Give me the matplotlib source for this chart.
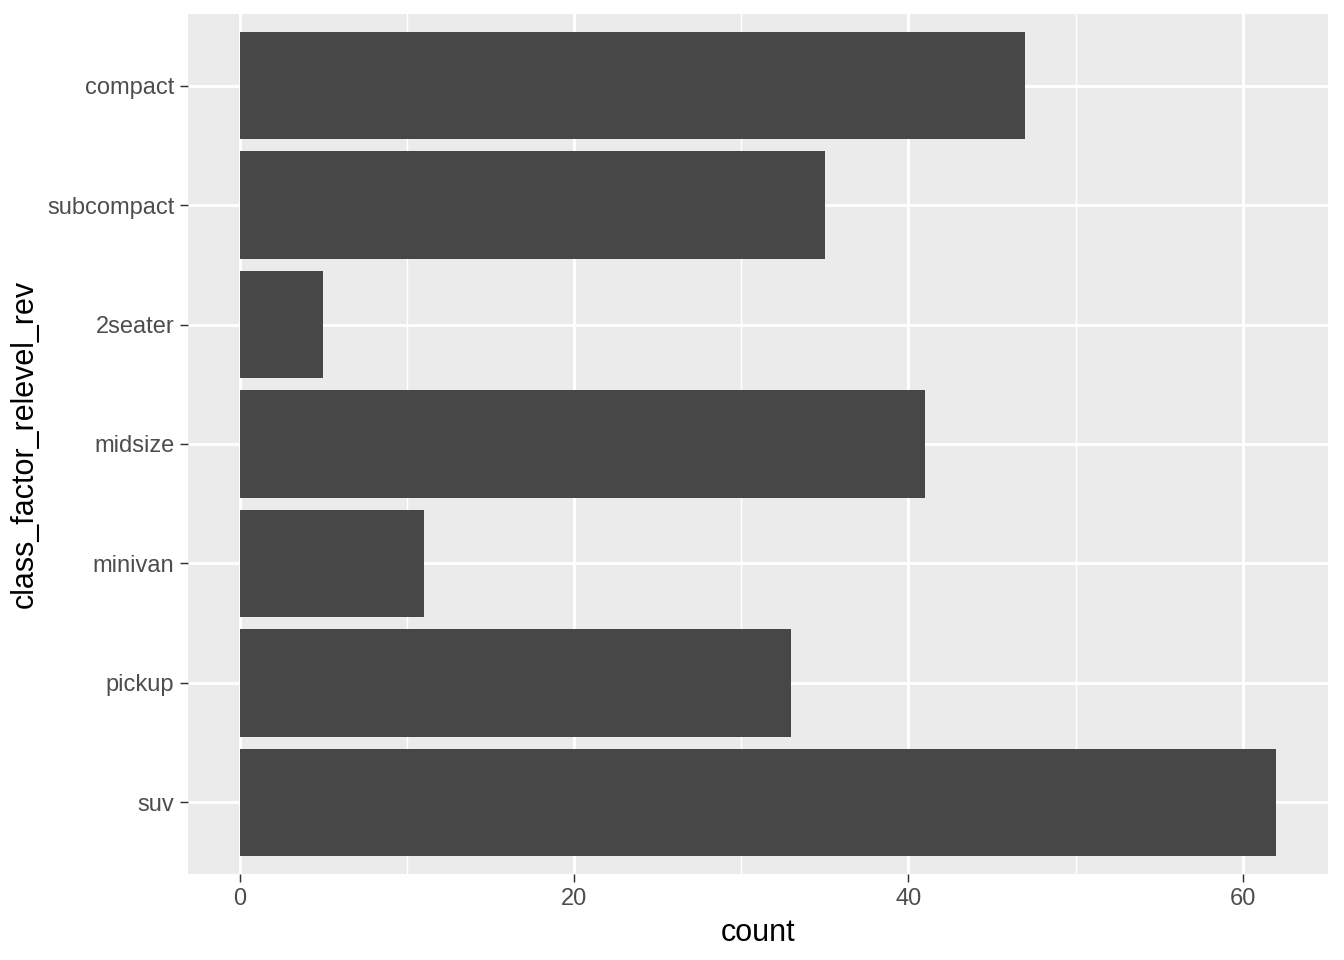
import matplotlib
matplotlib.use("Agg")
import matplotlib.pyplot as plt

categories = ["compact", "subcompact", "2seater", "midsize", "minivan", "pickup", "suv"]
counts = [47, 35, 5, 41, 11, 33, 62]
x_ticks = [0, 20, 40, 60]
x_minor = [10, 30, 50]

plt.rcParams['font.family'] = ['Liberation Sans', 'DejaVu Sans']

fig = plt.figure(figsize=(6.72, 4.8), dpi=200)
ax = fig.add_axes([188/1344, 1-874/960, (1328-188)/1344, (874-14)/960])
ax.set_facecolor("#EBEBEB")

n = len(categories)
ypos = [n - i for i in range(n)]
ax.barh(ypos, counts, height=0.9, color="#474747", zorder=3)

ax.set_xlim(-0.05*62, 62*1.05)
ax.set_ylim(0.4, n + 0.6)
ax.set_xticks(x_ticks)
ax.set_xticklabels([str(t) for t in x_ticks])
ax.set_xticks(x_minor, minor=True)
ax.set_yticks(ypos)
ax.set_yticklabels(categories)

for t in x_ticks:
    ax.axvline(t, color="white", lw=1.07, zorder=1)
for t in x_minor:
    ax.axvline(t, color="white", lw=0.53, zorder=1)
for y in ypos:
    ax.axhline(y, color="white", lw=1.07, zorder=1)

for s in ax.spines.values():
    s.set_visible(False)
ax.tick_params(axis='both', which='major', length=2.75, width=0.53, color="#333333",
               labelcolor="#4D4D4D", labelsize=8.5, pad=2.2)
ax.tick_params(axis='x', which='minor', length=0)
ax.set_xlabel("count", fontsize=11, color="black", labelpad=3)
ax.set_ylabel("class_factor_relevel_rev", fontsize=11, color="black", labelpad=2.5)

fig.savefig("out.png", dpi=200)
